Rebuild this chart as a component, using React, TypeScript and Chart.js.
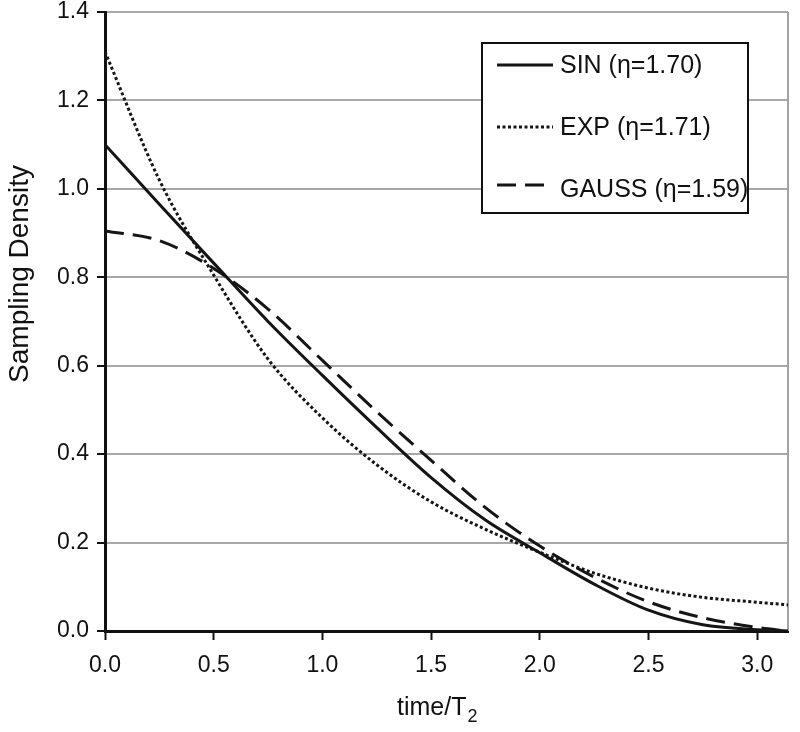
import React, { useEffect, useRef } from 'react';
import { Chart, registerables } from 'chart.js';

Chart.register(...registerables);

// ---- data ----
const TIME = [0, 0.25, 0.5, 0.75, 1.0, 1.25, 1.5, 1.75, 2.0, 2.25, 2.5, 2.75, 3.0, 3.1416];
const SIN = [1.10, 0.965, 0.832, 0.700, 0.578, 0.460, 0.347, 0.251, 0.177, 0.106, 0.047, 0.014, 0.003, 0.0];
const EXP = [1.31, 1.02, 0.805, 0.615, 0.482, 0.376, 0.292, 0.230, 0.178, 0.131, 0.097, 0.076, 0.065, 0.059];
const GAUSS = [0.905, 0.883, 0.820, 0.728, 0.612, 0.496, 0.386, 0.279, 0.192, 0.122, 0.066, 0.030, 0.008, 0.0];
const SERIES_LABELS = ['SIN (η=1.70)', 'EXP (η=1.71)', 'GAUSS (η=1.59)'];
const X_TICKS = [0, 0.5, 1.0, 1.5, 2.0, 2.5, 3.0];
const Y_MIN = 0;
const Y_MAX = 1.4;
const Y_STEP = 0.2;
const X_MIN = 0;
const X_MAX = 3.1416;
const X_TITLE_MAIN = 'time/T';
const X_TITLE_SUB = '2';
const Y_TITLE = 'Sampling Density';

const FONT = '"Liberation Sans", Arial, Helvetica, sans-serif';

const rightBorderPlugin = {
  id: 'rightBorder',
  beforeDatasetsDraw(chart: any) {
    const { ctx, chartArea } = chart;
    ctx.save();
    ctx.strokeStyle = '#a3a3a3';
    ctx.lineWidth = 2;
    ctx.beginPath();
    ctx.moveTo(chartArea.right, chartArea.top);
    ctx.lineTo(chartArea.right, chartArea.bottom);
    ctx.stroke();
    ctx.restore();
  },
};

const axisTitlesPlugin = {
  id: 'axisTitles',
  afterDraw(chart: any) {
    const { ctx } = chart;
    ctx.save();
    ctx.fillStyle = '#111';
    // x title with subscript
    ctx.textAlign = 'left';
    ctx.textBaseline = 'alphabetic';
    ctx.font = `25px ${FONT}`;
    const x0 = 397;
    const w = ctx.measureText(X_TITLE_MAIN).width;
    ctx.fillText(X_TITLE_MAIN, x0, 715);
    ctx.font = `18px ${FONT}`;
    ctx.fillText(X_TITLE_SUB, x0 + w + 1, 722);
    // y title, rotated
    ctx.translate(20, 274);
    ctx.rotate(-Math.PI / 2);
    ctx.textAlign = 'center';
    ctx.textBaseline = 'middle';
    ctx.font = `28px ${FONT}`;
    ctx.fillText(Y_TITLE, 0, 0);
    ctx.restore();
  },
};

const boxLegendPlugin = {
  id: 'boxLegend',
  afterDatasetsDraw(chart: any) {
    const { ctx } = chart;
    const bx = 482, by = 43, bw = 266, bh = 170;
    const lineRows = [65, 127, 185];
    const textRows = [66, 128, 190];
    ctx.save();
    ctx.fillStyle = '#ffffff';
    ctx.fillRect(bx, by, bw, bh);
    ctx.strokeStyle = '#111';
    ctx.lineWidth = 2;
    ctx.setLineDash([]);
    ctx.strokeRect(bx, by, bw, bh);
    chart.data.datasets.forEach((ds: any, i: number) => {
      ctx.beginPath();
      ctx.setLineDash(ds.borderDash || []);
      ctx.lineWidth = ds.borderWidth;
      ctx.strokeStyle = ds.borderColor;
      ctx.moveTo(bx + 15, lineRows[i]);
      ctx.lineTo(bx + 71, lineRows[i]);
      ctx.stroke();
      ctx.setLineDash([]);
      ctx.fillStyle = '#111';
      ctx.font = `25px ${FONT}`;
      ctx.textBaseline = 'middle';
      ctx.textAlign = 'left';
      ctx.fillText(ds.label, bx + 78, textRows[i]);
    });
    ctx.restore();
  },
};

export default function App() {
  const canvasRef = useRef<HTMLCanvasElement>(null);

  useEffect(() => {
    if (!canvasRef.current) return;
    const mk = (vals: number[]) => TIME.map((t, i) => ({ x: t, y: vals[i] }));
    const chart = new Chart(canvasRef.current, {
      type: 'line',
      data: {
        datasets: [
          {
            label: SERIES_LABELS[0],
            data: mk(SIN),
            borderColor: '#151515',
            borderWidth: 3,
            pointRadius: 0,
            cubicInterpolationMode: 'monotone',
            fill: false,
          },
          {
            label: SERIES_LABELS[1],
            data: mk(EXP),
            borderColor: '#151515',
            borderWidth: 3,
            borderDash: [3, 2.5],
            pointRadius: 0,
            cubicInterpolationMode: 'monotone',
            fill: false,
          },
          {
            label: SERIES_LABELS[2],
            data: mk(GAUSS),
            borderColor: '#151515',
            borderWidth: 3,
            borderDash: [19, 9],
            pointRadius: 0,
            cubicInterpolationMode: 'monotone',
            fill: false,
          },
        ],
      },
      options: {
        animation: false,
        responsive: false,
        devicePixelRatio: 1,
        layout: { padding: { top: 12, right: 12, left: 0, bottom: 0 } },
        plugins: {
          legend: { display: false },
          tooltip: { enabled: false },
        },
        scales: {
          x: {
            type: 'linear',
            min: X_MIN,
            max: X_MAX,
            afterFit: (scale: any) => {
              scale.height = 101;
            },
            afterBuildTicks: (scale: any) => {
              scale.ticks = X_TICKS.map((v) => ({ value: v }));
            },
            ticks: {
              includeBounds: false,
              color: '#111',
              font: { family: FONT, size: 23 },
              padding: 12,
              maxRotation: 0,
              callback: (v: any) => Number(v).toFixed(1),
            },
            grid: {
              drawOnChartArea: false,
              color: '#111',
              tickColor: '#111',
              tickLength: 9,
              tickWidth: 2,
            },
            border: { color: '#111', width: 3 },
            title: { display: false },
          },
          y: {
            type: 'linear',
            min: Y_MIN,
            max: Y_MAX,
            afterFit: (scale: any) => {
              scale.width = 105;
              scale.paddingTop = 0;
              scale.paddingBottom = 0;
            },
            ticks: {
              stepSize: Y_STEP,
              color: '#111',
              font: { family: FONT, size: 23, lineHeight: 1 },
              padding: 8,
              callback: (v: any) => Number(v).toFixed(1),
            },
            grid: {
              color: '#a8a8a8',
              lineWidth: 2,
              tickColor: '#111',
              tickLength: 8,
              tickWidth: 2,
            },
            border: { color: '#111', width: 3 },
            title: { display: false },
          },
        },
      },
      plugins: [rightBorderPlugin, boxLegendPlugin, axisTitlesPlugin],
    } as any);
    return () => chart.destroy();
  }, []);

  return (
    <div style={{ position: 'absolute', left: 0, top: 0, width: 800, height: 732, background: '#fff' }}>
      <canvas ref={canvasRef} width={800} height={732} />
    </div>
  );
}
